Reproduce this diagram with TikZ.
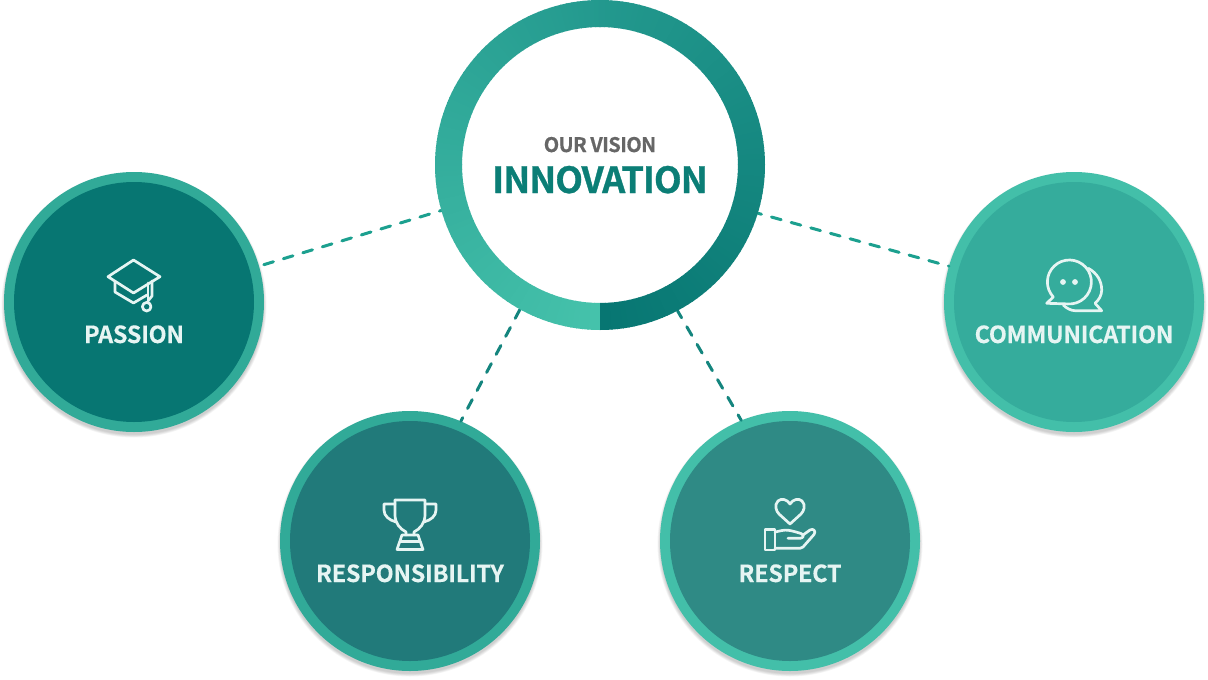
\documentclass[tikz,border=0pt]{standalone}
\usepackage{fontspec}
\setmainfont{Noto Sans CJK KR}[BoldFont={Noto Sans CJK KR Bold}]
\newfontfamily\labelfont{Noto Sans CJK KR Bold}[LetterSpace=-1.3,FakeBold=0.25]
\newfontfamily\visionfont{Noto Sans CJK KR Bold}[LetterSpace=-2.6,FakeBold=0.6,WordSpace=0.9]
\newfontfamily\innovfont{Noto Sans CJK KR Bold}[LetterSpace=-2.7,FakeBold=0.9]
\usetikzlibrary{calc}
\definecolor{ringlight}{HTML}{45C2AB}
\definecolor{ringtop}{HTML}{23998E}
\definecolor{ringdark}{HTML}{077672}
\definecolor{txtdark}{HTML}{0B7E76}
\definecolor{txtgrey}{HTML}{666666}
\definecolor{iconc}{HTML}{E6F5F3}
\definecolor{dashc}{HTML}{1CA08F}
\definecolor{dashd}{HTML}{14857E}
\definecolor{outA}{HTML}{31AA98}
\definecolor{outB}{HTML}{43BFA9}
\definecolor{inPassion}{HTML}{077672}
\definecolor{inResp}{HTML}{217A7A}
\definecolor{inRespect}{HTML}{2F8A85}
\definecolor{inComm}{HTML}{35AC9C}
\tikzset{
  x=1pt,y=-1pt,
  ball/.style={circle,inner sep=0pt,minimum size=260pt,draw=none},
  core/.style={circle,inner sep=0pt,minimum size=240pt,draw=none},
  hub/.style={circle,inner sep=0pt,minimum size=330pt,draw=none},
  balllabel/.style={anchor=base,font=\labelfont\fontsize{23.5}{26}\selectfont,text=iconc,inner sep=0pt},
  icon/.style={draw=iconc,line width=2.7pt,line cap=round,line join=round,fill=none},
  conn/.style={line width=3pt,line cap=round,dash pattern=on 10pt off 10.4pt},
}
\newcommand{\softshadow}[2]{%
  \foreach \s in {5,4,3,2,1}{
    \fill[black,opacity=0.04] (#1,#2+3) circle[radius=129+\s*0.7];
  }
}
\begin{document}
\begin{tikzpicture}
\useasboundingbox (0,0) rectangle (1208,680);
\fill[white] (0,0) rectangle (1208,680);
% shadows
\softshadow{134}{302}
\softshadow{410}{541}
\softshadow{790}{541}
\softshadow{1074}{302}
% nodes
\node[hub] (main) at (600,165) {};
\node[ball,fill=outA] (passion) at (134,302) {};
\node[core,fill=inPassion] (passioncore) at (134,302) {};
\node[ball,fill=outA] (resp) at (410,541) {};
\node[core,fill=inResp] (respcore) at (410,541) {};
\node[ball,fill=outB] (respect) at (790,541) {};
\node[core,fill=inRespect] (respectcore) at (790,541) {};
\node[ball,fill=outB] (comm) at (1074,302) {};
\node[core,fill=inComm] (commcore) at (1074,302) {};
% connectors
\draw[conn,draw=dashc,shorten <=4.9pt] (passion.16.6) -- (main.196.9);
\draw[conn,draw=dashc,dash phase=6.4pt] (main.343.1) -- (comm.164.5);
\draw[conn,draw=dashd] (main.241.6) -- (resp.67);
\draw[conn,draw=dashd,dash phase=2pt] (main.298.4) -- (respect.112.6);
% hub ring: user angles run clockwise on screen, 90 = bottom, 270 = top
\foreach \i in {0,...,89}{
  \pgfmathsetmacro{\pct}{100-\i/0.9}
  \pgfmathsetmacro{\a}{90+\i*2}
  \pgfmathsetmacro{\b}{90+\i*2+2.4}
  \fill[ringlight!\pct!ringtop] (600,165) ++(\a:165) arc[start angle=\a,end angle=\b,radius=165]
     -- ($(600,165)+(\b:138)$) arc[start angle=\b,end angle=\a,radius=138] -- cycle;
}
\foreach \i in {0,...,89}{
  \pgfmathsetmacro{\pct}{100-\i/0.9}
  \pgfmathsetmacro{\a}{90-\i*2}
  \pgfmathsetmacro{\b}{90-\i*2-2.4}
  \fill[ringdark!\pct!ringtop] (600,165) ++(\a:165) arc[start angle=\a,end angle=\b,radius=165]
     -- ($(600,165)+(\b:138)$) arc[start angle=\b,end angle=\a,radius=138] -- cycle;
}
% hub text
\node[anchor=base,inner sep=0pt,text=txtgrey,font=\visionfont\fontsize{20}{22}\selectfont] (vision) at (600,152) {OUR VISION};
\node[anchor=base,inner sep=0pt,text=txtdark,font=\innovfont\fontsize{36}{40}\selectfont] (innov) at (600,193) {INNOVATION};
% labels
\node[balllabel] (lpassion) at (134,343) {PASSION};
\node[balllabel] (lresp) at (410,582) {RESPONSIBILITY};
\node[balllabel] (lrespect) at (790,582) {RESPECT};
\node[balllabel] (lcomm) at (1074,343) {COMMUNICATION};
% cap icon
\draw[icon] (133.5,260) -- (160,276.7) -- (133.5,293) -- (108,276.7) -- cycle;
\draw[icon] (115,282) -- (115,292) -- (133.5,303) -- (147,295);
\draw[icon] (148,283) -- (148,301);
\draw[icon] (152,281) -- (152,296) -- (148,301);
\draw[icon] (146.7,306.7) circle[radius=4.3];
% speech icon
\draw[icon] (1046.7,303.3) -- (1053.3,297) arc[start angle=137,end angle=455,radius=22] -- cycle;
\draw[icon] (1088.3,268.3) .. controls (1097,273) and (1101.7,281) .. (1101.7,290) .. controls (1101.7,295) and (1099,300) .. (1095,303.3) -- (1101.7,310.7) -- (1075,310.7) .. controls (1071,310.7) and (1066,308) .. (1063.3,305);
\fill[iconc] (1063,282) circle[radius=2.9];
\fill[iconc] (1075,282) circle[radius=2.9];
% trophy icon
\draw[icon] (395,500) -- (425,500) -- (425,515) .. controls (425,523) and (420,529) .. (414,532) -- (414,535);
\draw[icon] (395,500) -- (395,515) .. controls (395,523) and (400,529) .. (406,532) -- (406,535);
\draw[icon] (395,504) -- (384,504) -- (384,510) .. controls (384,516) and (389,520) .. (396,522);
\draw[icon] (425,504) -- (436,504) -- (436,510) .. controls (436,516) and (431,520) .. (424,522);
\draw[icon] (402,535) -- (418,535) -- (423,549.5) -- (397,549.5) -- cycle;
\draw[icon] (400,541.5) -- (420,541.5);
% hand and heart icon
\draw[icon] (790,504) .. controls (787,499) and (781,498) .. (778,501) .. controls (774,505) and (776,511) .. (779,514) -- (790,524) -- (801,514) .. controls (804,511) and (806,505) .. (802,501) .. controls (799,498) and (793,499) .. (790,504) -- cycle;
\draw[icon] (765,529.3) rectangle (775,550);
\draw[icon] (775,532) -- (782,530.5) .. controls (787,529.5) and (790,530.5) .. (795,531.7) -- (801,533.5) .. controls (805,535) and (803,538.3) .. (800,538.3) -- (788,538.3);
\draw[icon] (803,535) -- (810,530) .. controls (813,528) and (816.5,531) .. (814,534.5) -- (803,547) .. controls (802,548) and (801,548.3) .. (800,548.3) -- (775,548.3);
\end{tikzpicture}
\end{document}
